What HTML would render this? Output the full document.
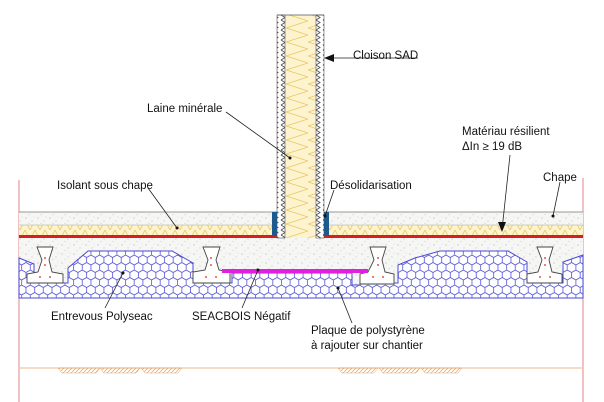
<!DOCTYPE html>
<html><head><meta charset="utf-8"><style>
html,body{margin:0;padding:0;background:#fff}
svg{display:block}
text{font-family:"Liberation Sans",sans-serif;font-size:11.5px;fill:#111}
</style></head><body>
<svg width="604" height="402" viewBox="0 0 604 402" xmlns="http://www.w3.org/2000/svg">
<defs>
<pattern id="hex" width="8.66" height="15" patternUnits="userSpaceOnUse">
<rect width="8.66" height="15" fill="#fff"/>
<path d="M4.33,0 L8.66,2.5 L8.66,7.5 L4.33,10 L0,7.5 L0,2.5 Z M4.33,10 L4.33,15" stroke="#5555d8" stroke-width="0.8" fill="none"/>
</pattern>
<pattern id="wool" width="10" height="10" patternUnits="userSpaceOnUse">
<rect width="10" height="10" fill="#fdf3cf"/>
<path d="M0,10 L5,0 L10,10" stroke="#e8c860" stroke-width="0.8" fill="none"/>
</pattern>
<pattern id="wall" width="22" height="14" patternUnits="userSpaceOnUse">
<rect width="22" height="14" fill="#fdf3cf"/>
<path d="M0,0 L22,7 L0,14" stroke="#e8c860" stroke-width="0.8" fill="none"/>
</pattern>
<pattern id="chev" width="7" height="5" patternUnits="userSpaceOnUse">
<rect width="7" height="5" fill="#fff"/>
<path d="M1,0 L5,2.5 L1,5" stroke="#555" stroke-width="0.9" fill="none"/>
</pattern>
<pattern id="dots" width="12" height="9" patternUnits="userSpaceOnUse">
<rect width="12" height="9" fill="#f6f6f4"/>
<circle cx="2" cy="2" r="0.5" fill="#999"/><circle cx="8" cy="5" r="0.5" fill="#aaa"/><circle cx="5" cy="7.5" r="0.4" fill="#999"/><circle cx="10" cy="1" r="0.4" fill="#bbb"/>
</pattern>
<pattern id="orhatch" width="4" height="4" patternUnits="userSpaceOnUse">
<path d="M0,4 L4,0" stroke="#e8a060" stroke-width="0.7"/>
</pattern>
</defs>

<line x1="19" y1="180" x2="19" y2="402" stroke="#e89a9a" stroke-width="1.2"/>
<line x1="583" y1="178" x2="583" y2="402" stroke="#e89a9a" stroke-width="1.2"/>

<rect x="19" y="212" width="564" height="13" fill="url(#dots)"/>
<line x1="19" y1="212" x2="583" y2="212" stroke="#777" stroke-width="0.8"/>
<rect x="19" y="225" width="564" height="10" fill="url(#wool)"/>
<line x1="19" y1="225" x2="583" y2="225" stroke="#aa9" stroke-width="0.5"/>
<rect x="19" y="235" width="564" height="3" fill="#d42020"/>
<rect x="19" y="238" width="564" height="60" fill="url(#dots)"/>

<polygon points="19,258 34,264 34,283 68,283 68,268 88,251 172,251 193,263 193,283 232,283 232,273 352,273 352,285 360,285 360,283 398,283 398,265 415,258 440,251 508,251 527,262 527,283 563,283 563,262 583,255 583,298 19,298" fill="url(#hex)" stroke="#4a4ad8" stroke-width="1"/>

<g fill="#fff" stroke="#444" stroke-width="0.9">
<path d="M37,247 L53,247 L49,260 L52,272 L63,274 L63,283 L27,283 L27,274 L38,272 L42,260 Z"/>
<path d="M203,247 L220,247 L216,260 L219,270 L230,272 L230,283 L193,283 L193,272 L205,270 L208,260 Z"/>
<path d="M370,247 L386,247 L382,260 L385,272 L394,274 L394,284 L360,284 L360,274 L368,272 L374,260 Z"/>
<path d="M537,247 L553,247 L549,260 L552,272 L562,274 L562,283 L527,283 L527,274 L538,272 L542,260 Z"/>
</g>
<g fill="#e02020">
<circle cx="45" cy="258" r="0.9"/><circle cx="45" cy="265" r="0.9"/><circle cx="40" cy="277" r="0.9"/><circle cx="50" cy="277" r="0.9"/>
<circle cx="211" cy="258" r="0.9"/><circle cx="211" cy="265" r="0.9"/><circle cx="206" cy="277" r="0.9"/><circle cx="216" cy="277" r="0.9"/>
<circle cx="378" cy="258" r="0.9"/><circle cx="378" cy="265" r="0.9"/><circle cx="373" cy="277" r="0.9"/><circle cx="383" cy="277" r="0.9"/>
<circle cx="545" cy="258" r="0.9"/><circle cx="545" cy="265" r="0.9"/><circle cx="540" cy="277" r="0.9"/><circle cx="550" cy="277" r="0.9"/>
</g>
<rect x="222" y="269" width="146" height="4" fill="#e020e0"/>

<rect x="277" y="15" width="47" height="223" fill="url(#wall)"/>
<rect x="277" y="15" width="8" height="223" fill="url(#chev)" stroke="#555" stroke-width="0.6"/>
<rect x="316" y="15" width="8" height="223" fill="url(#chev)" stroke="#555" stroke-width="0.6"/>
<line x1="277" y1="15" x2="324" y2="15" stroke="#555" stroke-width="0.8"/>
<rect x="272" y="212" width="5" height="24" fill="#1f5a8c"/>
<rect x="324" y="212" width="5" height="24" fill="#1f5a8c"/>

<line x1="19" y1="368" x2="583" y2="368" stroke="#f0c8a0" stroke-width="1.2"/>
<g fill="url(#orhatch)" stroke="#e8a060" stroke-width="0.5">
<polygon points="58,368 100,368 96,373 62,373"/><polygon points="100,368 140,368 136,373 104,373"/><polygon points="141,368 182,368 178,373 145,373"/>
<polygon points="338,368 378,368 374,373 342,373"/><polygon points="379,368 420,368 416,373 383,373"/><polygon points="421,368 462,368 458,373 425,373"/>
</g>

<g stroke="#222" stroke-width="0.8" fill="none">
<line x1="325" y1="58" x2="418" y2="58"/>
<line x1="226" y1="112" x2="290" y2="158"/>
<line x1="148" y1="188" x2="177" y2="228"/>
<line x1="334" y1="190" x2="325" y2="216"/>
<line x1="510" y1="155" x2="502" y2="230"/>
<line x1="560" y1="182" x2="553" y2="216"/>
<line x1="105" y1="308" x2="123" y2="273"/>
<line x1="242" y1="308" x2="258" y2="270"/>
<line x1="352" y1="323" x2="338" y2="288"/>
</g>
<polygon points="324,58 334,54 334,62" fill="#111"/>
<polygon points="502,232 498,222 506,222" fill="#111"/>
<g fill="#111">
<circle cx="290" cy="158" r="1.5"/><circle cx="177" cy="228" r="1.5"/><circle cx="325" cy="216" r="1.5"/>
<circle cx="553" cy="216" r="1.5"/><circle cx="123" cy="273" r="1.5"/><circle cx="258" cy="270" r="1.5"/><circle cx="338" cy="288" r="1.5"/>
</g>

<text x="353" y="59">Cloison SAD</text>
<text x="147" y="112">Laine minérale</text>
<text x="462" y="135">Matériau résilient</text>
<text x="462" y="150">ΔIn ≥ 19 dB</text>
<text x="543" y="181">Chape</text>
<text x="330" y="189">Désolidarisation</text>
<text x="57" y="189">Isolant sous chape</text>
<text x="51" y="320">Entrevous Polyseac</text>
<text x="192" y="320">SEACBOIS Négatif</text>
<text x="311" y="334">Plaque de polystyrène</text>
<text x="311" y="349">à rajouter sur chantier</text>
</svg>
</body></html>
